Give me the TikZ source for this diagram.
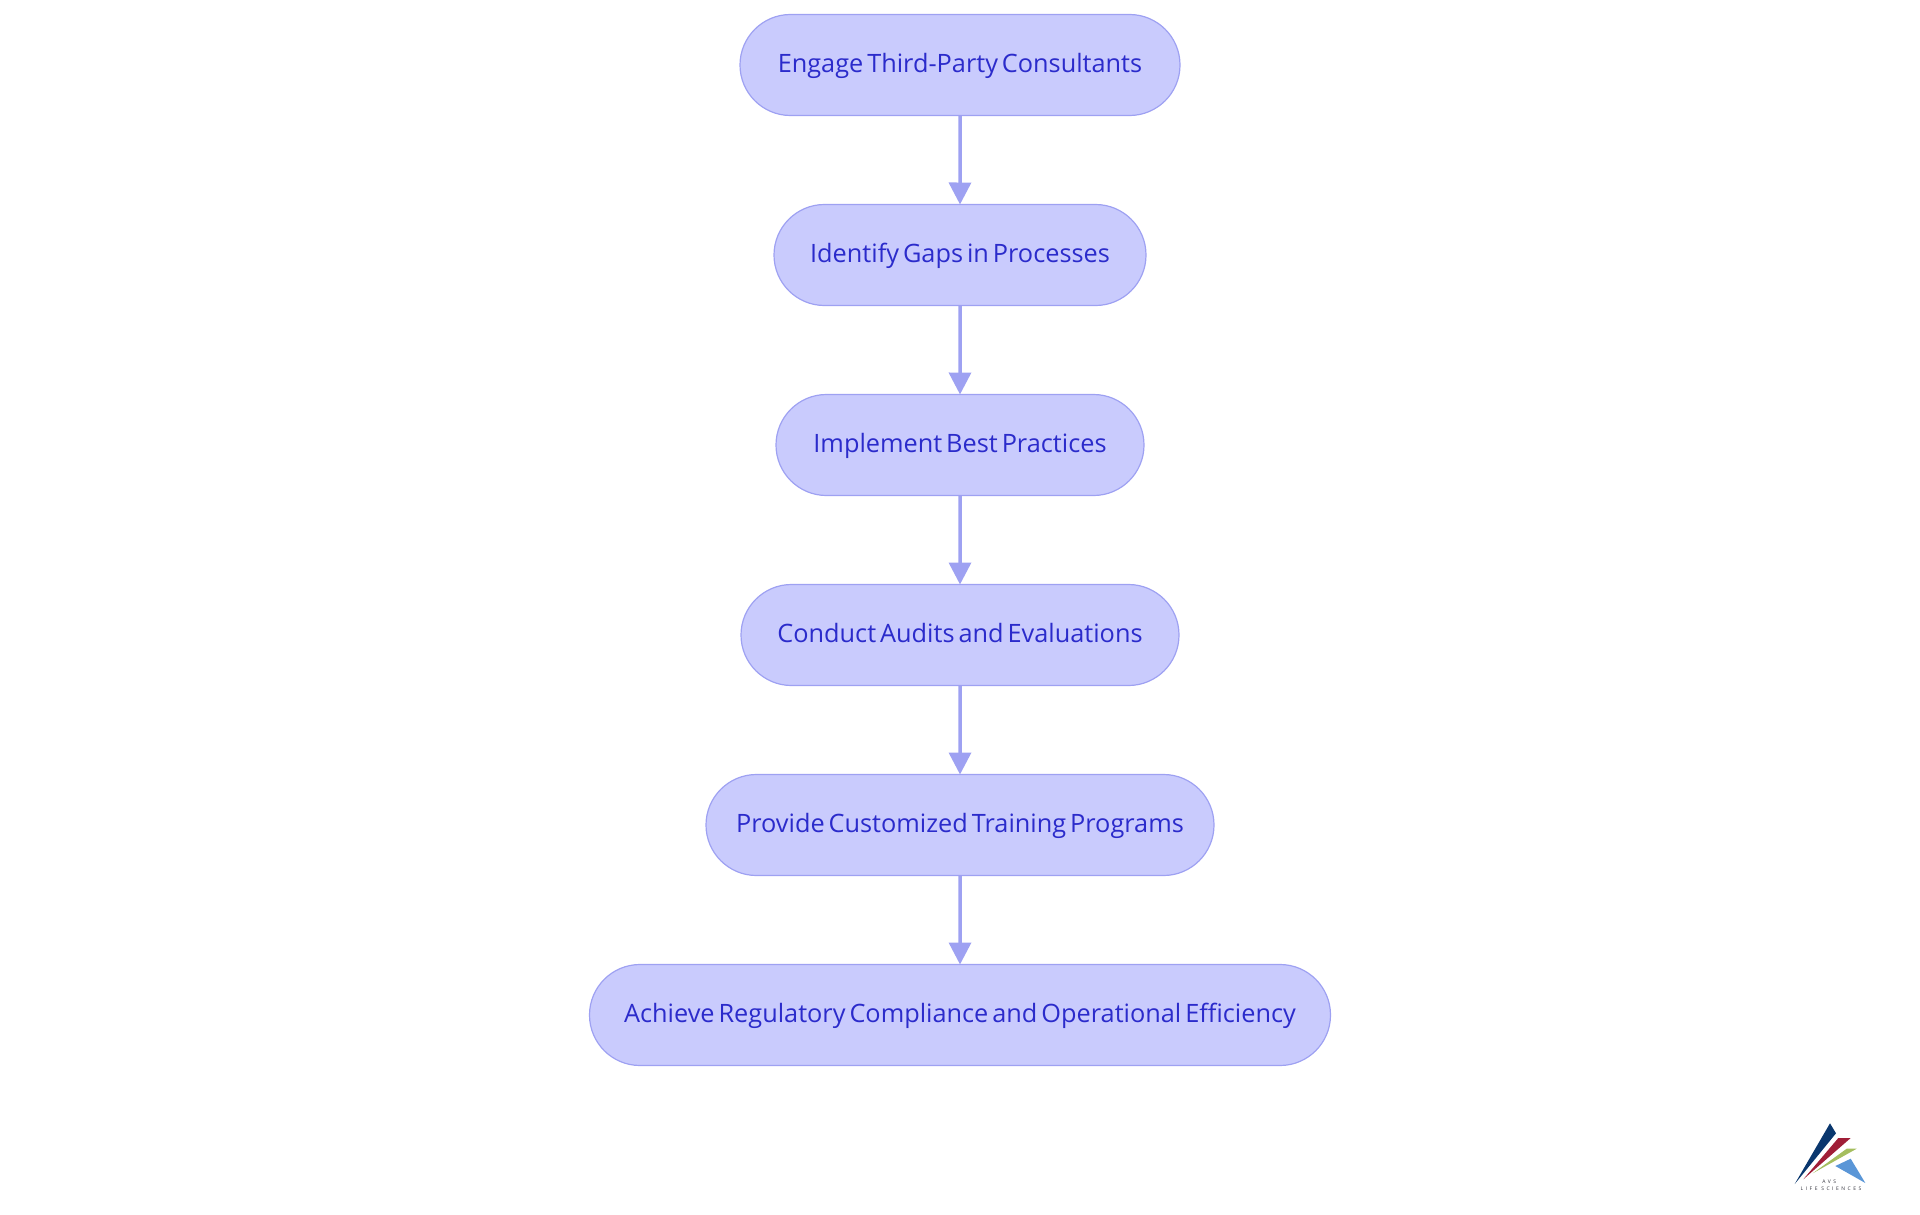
\documentclass[tikz,border=0pt]{standalone}
\usepackage{fontspec}
\setmainfont[WordSpace=0.6]{Open Sans}
\newfontfamily\logofont[LetterSpace=50]{Open Sans}
\usetikzlibrary{arrows.meta,shapes.misc}
\definecolor{pillfill}{HTML}{C9CBFD}
\definecolor{pillline}{HTML}{9EA1F2}
\definecolor{pilltext}{HTML}{2B2BCB}
\definecolor{logotext}{HTML}{32323C}
\tikzset{
  pill/.style={rounded rectangle,draw=pillline,line width=1.2pt,fill=pillfill,outer sep=0pt,
    text=pilltext,font=\fontsize{25.3}{30}\selectfont,minimum height=101pt,inner sep=0pt,
    text height=20pt,text depth=5pt},
  flow/.style={pillline,line width=3.5pt,-{Triangle[width=22pt,length=22pt]}},
  logoword/.style={font=\logofont\fontsize{5}{6}\selectfont,text=logotext,inner sep=0pt},
}
\begin{document}
\begin{tikzpicture}[x=1pt,y=-1pt]
    \useasboundingbox (0,0) rectangle (1920,1215);
    \node[pill,minimum width=440pt] (engage)   at (960,  65) {Engage Third-Party Consultants};
    \node[pill,minimum width=372pt] (gaps)     at (960, 255) {Identify Gaps in Processes};
    \node[pill,minimum width=368pt] (practice) at (960, 445) {Implement Best Practices};
    \node[pill,minimum width=438pt] (audits)   at (960, 635) {Conduct Audits and Evaluations};
    \node[pill,minimum width=508pt] (training) at (960, 825) {Provide Customized Training Programs};
    \node[pill,minimum width=741pt] (achieve)  at (960,1015) {Achieve Regulatory Compliance and Operational Efficiency};
    \draw[flow] (engage)   -- (gaps);
    \draw[flow] (gaps)     -- (practice);
    \draw[flow] (practice) -- (audits);
    \draw[flow] (audits)   -- (training);
    \draw[flow] (training) -- (achieve);
    % logo
    \fill[fill={rgb,255:red,10;green,55;blue,110}] (1830,1123.3) -- (1836,1133.3) -- (1794.7,1184) -- cycle;
    \fill[fill={rgb,255:red,160;green,30;blue,55}] (1838.3,1138) -- (1850.7,1138) -- (1803.3,1179.3) -- cycle;
    \fill[fill={rgb,255:red,165;green,190;blue,95}] (1846.7,1148.7) -- (1856.7,1148.7) -- (1812.7,1173.3) -- cycle;
    \fill[fill={rgb,255:red,90;green,150;blue,215}] (1850.7,1158.7) -- (1865.3,1183) -- (1835.3,1166) -- cycle;
    \node[logoword] (avs)  at (1829.3,1182) {AVS};
    \node[logoword] (life) at (1831,1189) {LIFE SCIENCES};
\end{tikzpicture}
\end{document}
